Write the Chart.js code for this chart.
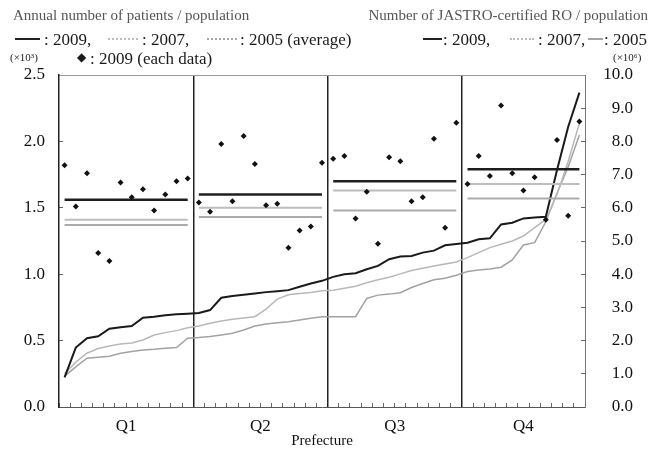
<!DOCTYPE html>
<html>
<head>
<meta charset="utf-8">
<script src="https://cdn.jsdelivr.net/npm/chart.js@4.4.0/dist/chart.umd.min.js"></script>
<style>
body { margin: 0; background: #fff; font-family: 'Liberation Serif', serif; color: #1a1a1a; }
#wrap { position: relative; width: 652px; height: 449px; }
#grafico { position: absolute; left: 0; top: 0; }
.t { position: absolute; white-space: nowrap; line-height: 1; }
.m { position: absolute; height: 0; }
</style>
</head>
<body>
<div id="wrap">
  <canvas id="grafico" width="652" height="449"></canvas>

  <!-- cabecera izquierda -->
  <div class="t" style="left:13px; top:8px; font-size:15px; color:#555;">Annual number of patients / population</div>
  <div class="m" style="left:15px; top:38px; width:25px; border-top:2px solid #222;"></div>
  <div class="t" style="left:44px; top:31px; font-size:17px;">: 2009,</div>
  <div class="m" style="left:108px; top:38px; width:30px; border-top:2px dotted #bbb;"></div>
  <div class="t" style="left:142px; top:31px; font-size:17px;">: 2007,</div>
  <div class="m" style="left:207px; top:38px; width:30px; border-top:2px dotted #a5a5a5;"></div>
  <div class="t" style="left:240px; top:31px; font-size:17px;">: 2005 (average)</div>
  <div class="t" style="left:10px; top:52px; font-size:11px;">(×10³)</div>
  <div class="t" style="left:77px; top:51px; font-size:12px;">◆</div>
  <div class="t" style="left:90px; top:50px; font-size:17px;">: 2009 (each data)</div>

  <!-- cabecera derecha -->
  <div class="t" style="right:4px; top:8px; font-size:15px; color:#555;">Number of JASTRO-certified RO / population</div>
  <div class="m" style="left:423px; top:38px; width:19px; border-top:2px solid #222;"></div>
  <div class="t" style="left:443px; top:31px; font-size:17px;">: 2009,</div>
  <div class="m" style="left:510px; top:38px; width:24px; border-top:2px dotted #bbb;"></div>
  <div class="t" style="left:538px; top:31px; font-size:17px;">: 2007,</div>
  <div class="m" style="left:588px; top:38px; width:15px; border-top:2px solid #a5a5a5;"></div>
  <div class="t" style="left:604px; top:31px; font-size:17px;">: 2005</div>
  <div class="t" style="left:613px; top:52px; font-size:11px;">(×10⁶)</div>
</div>

<script>
// Categorias: prefecturas ordenadas por RO certificados 2009
const prefecturas = Array.from({ length: 47 }, (_, i) => String(i + 1));
const cuartiles = ['Q1', 'Q2', 'Q3', 'Q4'];
const tamanoCuartil = [12, 12, 12, 11];

// RO certificados por JASTRO / poblacion (eje derecho)
const ro2009 = [0.89, 1.79, 2.07, 2.13, 2.36, 2.40, 2.44, 2.69, 2.72, 2.76, 2.79, 2.81,
                2.83, 2.92, 3.29, 3.34, 3.38, 3.42, 3.46, 3.49, 3.52, 3.62, 3.72, 3.80,
                3.92, 4.00, 4.03, 4.15, 4.25, 4.45, 4.53, 4.55, 4.65, 4.71, 4.87, 4.91,
                4.95, 5.05, 5.08, 5.50, 5.55, 5.68, 5.71, 5.73, 7.14, 8.44, 9.47];
const ro2007 = [1.00, 1.35, 1.62, 1.76, 1.84, 1.90, 1.93, 2.02, 2.17, 2.24, 2.30, 2.39,
                2.44, 2.52, 2.59, 2.64, 2.68, 2.72, 2.95, 3.25, 3.38, 3.42, 3.45, 3.50,
                3.52, 3.58, 3.64, 3.74, 3.83, 3.91, 4.01, 4.11, 4.18, 4.25, 4.31, 4.37,
                4.50, 4.65, 4.80, 4.90, 5.00, 5.15, 5.40, 5.65, 6.40, 7.40, 8.55];
const ro2005 = [0.93, 1.21, 1.47, 1.50, 1.53, 1.62, 1.67, 1.72, 1.74, 1.77, 1.79, 2.07,
                2.09, 2.12, 2.17, 2.22, 2.32, 2.44, 2.50, 2.54, 2.57, 2.62, 2.67, 2.72,
                2.72, 2.72, 2.72, 3.27, 3.37, 3.40, 3.44, 3.60, 3.72, 3.83, 3.88, 3.97,
                4.08, 4.13, 4.16, 4.21, 4.43, 4.88, 4.95, 5.58, 6.44, 7.24, 8.19];

// Pacientes anuales / poblacion (eje izquierdo)
const pacientes2009 = [1.82, 1.51, 1.76, 1.16, 1.10, 1.69, 1.58, 1.64, 1.48, 1.60, 1.70, 1.72,
                       1.54, 1.47, 1.98, 1.55, 2.04, 1.83, 1.52, 1.53, 1.20, 1.33, 1.36, 1.84,
                       1.87, 1.89, 1.42, 1.62, 1.23, 1.88, 1.85, 1.55, 1.58, 2.02, 1.35, 2.14,
                       1.68, 1.89, 1.74, 2.27, 1.76, 1.63, 1.73, 1.41, 2.01, 1.44, 2.15];
const promedio2009 = [1.56, 1.60, 1.70, 1.79];
const promedio2007 = [1.41, 1.50, 1.63, 1.68];
const promedio2005 = [1.37, 1.43, 1.48, 1.57];

// Ticks de los ejes
const ticksIzq = [0, 0.5, 1.0, 1.5, 2.0, 2.5];
const ticksDer = [0, 1, 2, 3, 4, 5, 6, 7, 8, 9, 10];

// Limites y centros de cada cuartil (en indices de prefectura)
let finQuartil = [];
let centrosCuartil = [];
let divisiones = [];
let acumulado = 0;
tamanoCuartil.forEach(n => {
    centrosCuartil.push(acumulado + (n - 1) / 2);
    acumulado += n;
    finQuartil.push(acumulado - 1);
    divisiones.push(acumulado - 0.5);
});
divisiones.pop();

// Funcion para repetir el promedio de cada cuartil en sus prefecturas
function expandirPromedio(prom) {
    let out = [];
    tamanoCuartil.forEach((n, q) => {
        for (let k = 0; k < n; k++) out.push(prom[q]);
    });
    return out;
}

function lineaPromedio(label, prom, color, ancho) {
    return {
        label: label, data: expandirPromedio(prom), yAxisID: 'yL', xAxisID: 'x',
        borderColor: color, borderWidth: ancho, pointRadius: 0, fill: false,
        segment: { borderColor: ctx => finQuartil.includes(ctx.p0DataIndex) ? 'rgba(0,0,0,0)' : undefined }
    };
}

Chart.defaults.font.family = "'Liberation Serif', serif";
Chart.defaults.color = '#111';

new Chart(document.getElementById('grafico'), {
    type: 'line',
    data: {
        labels: prefecturas,
        datasets: [
            {
                label: '2009 (each data)', data: pacientes2009, yAxisID: 'yL', xAxisID: 'x',
                showLine: false, pointStyle: 'rectRot', pointRadius: 3,
                pointBackgroundColor: '#111', pointBorderWidth: 0
            },
            lineaPromedio('2009 avg', promedio2009, '#1e1e1e', 2.5),
            lineaPromedio('2007 avg', promedio2007, '#bdbdbd', 2),
            lineaPromedio('2005 avg', promedio2005, '#ababab', 2),
            { label: 'RO 2009', data: ro2009, yAxisID: 'yR', xAxisID: 'x', borderColor: '#1a1a1a', borderWidth: 2, pointRadius: 0 },
            { label: 'RO 2007', data: ro2007, yAxisID: 'yR', xAxisID: 'x', borderColor: '#b8b8b8', borderWidth: 1.5, pointRadius: 0 },
            { label: 'RO 2005', data: ro2005, yAxisID: 'yR', xAxisID: 'x', borderColor: '#a2a2a2', borderWidth: 1.5, pointRadius: 0 }
        ]
    },
    options: {
        responsive: false,
        animation: false,
        layout: { padding: { top: 75, left: 0, right: 19, bottom: 0 } },
        plugins: { legend: { display: false }, tooltip: { enabled: false } },
        scales: {
            x: {
                type: 'category', position: 'bottom', offset: true, weight: 0,
                ticks: { display: false },
                grid: { offset: true, drawOnChartArea: false, tickLength: -4, color: '#666' },
                border: { display: true, color: '#555', width: 1 },
                afterFit: s => { s.height = 0; }
            },
            xq: {
                type: 'linear', position: 'bottom', weight: 1, min: -0.5, max: 46.5, bounds: 'data',
                grid: { display: false }, border: { display: false },
                afterBuildTicks: s => { s.ticks = centrosCuartil.map(v => ({ value: v })); },
                ticks: { autoSkip: false, maxRotation: 0, padding: 1, font: { size: 17 }, color: '#111',
                         callback: (v, i) => cuartiles[i] },
                title: { display: true, text: 'Prefecture', font: { size: 15 }, color: '#111', padding: { top: 0, bottom: -1 } },
                afterFit: s => { s.height = 42; }
            },
            xd: {
                type: 'linear', position: 'top', min: -0.5, max: 46.5, bounds: 'data',
                afterBuildTicks: s => { s.ticks = divisiones.map(v => ({ value: v })); },
                ticks: { display: false },
                grid: { color: '#222', lineWidth: 1.5, drawTicks: false },
                border: { display: true, color: '#999', width: 1 },
                afterFit: s => { s.height = 0; }
            },
            yL: {
                type: 'linear', position: 'left', min: 0, max: 2.5,
                afterBuildTicks: s => { s.ticks = ticksIzq.map(v => ({ value: v })); },
                ticks: { padding: 18, font: { size: 17 }, color: '#111', callback: v => v.toFixed(1) },
                grid: { drawOnChartArea: false, tickLength: -4, color: '#666' },
                border: { display: true, color: '#222', width: 1.5 },
                afterFit: s => { s.width = 59; }
            },
            yR: {
                type: 'linear', position: 'right', min: 0, max: 10,
                afterBuildTicks: s => { s.ticks = ticksDer.map(v => ({ value: v })); },
                ticks: { padding: 22, crossAlign: 'far', font: { size: 17 }, color: '#111', callback: v => v.toFixed(1) },
                grid: { drawOnChartArea: false, tickLength: -4, color: '#666' },
                border: { display: true, color: '#777', width: 1 },
                afterFit: s => { s.width = 48; }
            }
        }
    }
});
</script>
</body>
</html>
